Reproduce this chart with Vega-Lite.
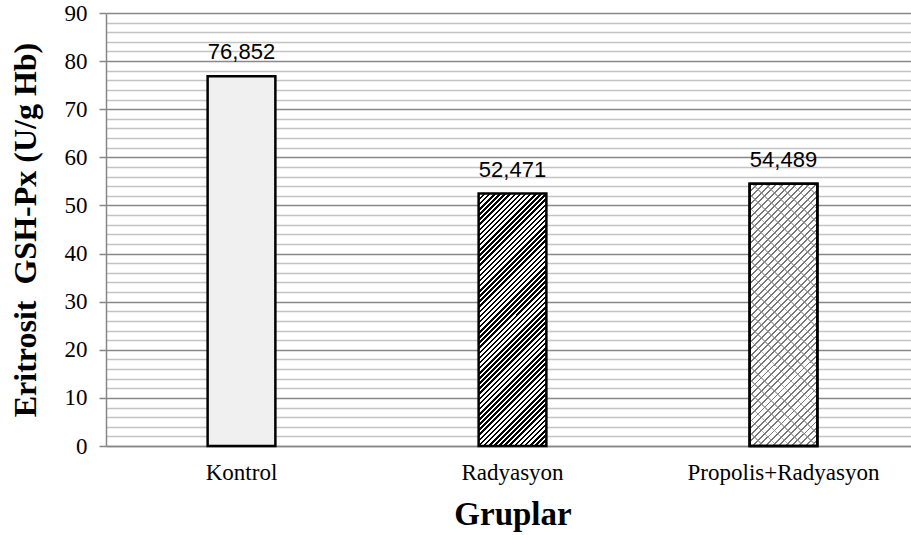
{
  "$schema": "https://vega.github.io/schema/vega-lite/v6.json",
  "width": 813,
  "height": 433,
  "autosize": "none",
  "padding": {"left": 106, "top": 13, "right": 0, "bottom": 89},
  "background": "white",
  "config": {"view": {"stroke": null}, "axis": {"labelFont": "Liberation Serif", "titleFont": "Liberation Serif", "labelColor": "#000", "titleColor": "#000"}},
  "data": {"values": [
    {"grup": "Kontrol", "deger": 76.852, "etiket": "76,852"},
    {"grup": "Radyasyon", "deger": 52.471, "etiket": "52,471"},
    {"grup": "Propolis+Radyasyon", "deger": 54.489, "etiket": "54,489"}
  ]},
  "encoding": {
    "x": {
      "field": "grup", "type": "nominal", "sort": null,
      "scale": {"paddingInner": 0.75, "paddingOuter": 0.375},
      "axis": {
        "title": "Gruplar", "titleFont": "Liberation Serif", "titleFontSize": 33, "titleFontWeight": "bold", "titleColor": "#000", "titlePadding": 14,
        "labelFont": "Liberation Serif", "labelFontSize": 23, "labelColor": "#000", "labelAngle": 0, "labelPadding": 15, "labelLimit": 0,
        "ticks": false, "domainColor": "#868686", "domainWidth": 1.5, "grid": false
      }
    },
    "y": {"field": "deger", "type": "quantitative", "scale": {"domain": [0, 90], "nice": false}}
  },
  "layer": [
    {
      "transform": [{"filter": "datum.grup === 'Kontrol'"}],
      "mark": {"type": "bar", "fill": "#f0f0f0", "stroke": "#000", "strokeWidth": 2.5},
      "encoding": {
        "y": {"field": "deger", "type": "quantitative", "axis": {
          "orient": "left", "title": null, "labels": false, "ticks": false, "domain": false,
          "grid": true, "gridColor": "#c4c4c4", "gridWidth": 1.3,
          "values": [2,4,6,8,12,14,16,18,22,24,26,28,32,34,36,38,42,44,46,48,52,54,56,58,62,64,66,68,72,74,76,78,82,84,86,88]
        }}
      }
    },
    {
      "transform": [{"filter": "datum.grup === 'Radyasyon'"}],
      "mark": {"type": "bar", "stroke": "#000", "strokeWidth": 2.5, "fill": {
        "gradient": "linear", "x1": 0, "y1": 0, "x2": 0.3176, "y2": 1.1832,
        "stops": [
{"offset":0,"color":"#000"},{"offset":0.008,"color":"#000"},{"offset":0.008,"color":"#fff"},{"offset":0.016,"color":"#fff"},
{"offset":0.016,"color":"#000"},{"offset":0.024,"color":"#000"},{"offset":0.024,"color":"#fff"},{"offset":0.032,"color":"#fff"},
{"offset":0.032,"color":"#000"},{"offset":0.04,"color":"#000"},{"offset":0.04,"color":"#fff"},{"offset":0.048,"color":"#fff"},
{"offset":0.048,"color":"#000"},{"offset":0.056,"color":"#000"},{"offset":0.056,"color":"#fff"},{"offset":0.064,"color":"#fff"},
{"offset":0.064,"color":"#000"},{"offset":0.072,"color":"#000"},{"offset":0.072,"color":"#fff"},{"offset":0.08,"color":"#fff"},
{"offset":0.08,"color":"#000"},{"offset":0.088,"color":"#000"},{"offset":0.088,"color":"#fff"},{"offset":0.096,"color":"#fff"},
{"offset":0.096,"color":"#000"},{"offset":0.104,"color":"#000"},{"offset":0.104,"color":"#fff"},{"offset":0.112,"color":"#fff"},
{"offset":0.112,"color":"#000"},{"offset":0.12,"color":"#000"},{"offset":0.12,"color":"#fff"},{"offset":0.128,"color":"#fff"},
{"offset":0.128,"color":"#000"},{"offset":0.136,"color":"#000"},{"offset":0.136,"color":"#fff"},{"offset":0.144,"color":"#fff"},
{"offset":0.144,"color":"#000"},{"offset":0.152,"color":"#000"},{"offset":0.152,"color":"#fff"},{"offset":0.16,"color":"#fff"},
{"offset":0.16,"color":"#000"},{"offset":0.168,"color":"#000"},{"offset":0.168,"color":"#fff"},{"offset":0.176,"color":"#fff"},
{"offset":0.176,"color":"#000"},{"offset":0.184,"color":"#000"},{"offset":0.184,"color":"#fff"},{"offset":0.192,"color":"#fff"},
{"offset":0.192,"color":"#000"},{"offset":0.2,"color":"#000"},{"offset":0.2,"color":"#fff"},{"offset":0.208,"color":"#fff"},
{"offset":0.208,"color":"#000"},{"offset":0.216,"color":"#000"},{"offset":0.216,"color":"#fff"},{"offset":0.224,"color":"#fff"},
{"offset":0.224,"color":"#000"},{"offset":0.232,"color":"#000"},{"offset":0.232,"color":"#fff"},{"offset":0.24,"color":"#fff"},
{"offset":0.24,"color":"#000"},{"offset":0.248,"color":"#000"},{"offset":0.248,"color":"#fff"},{"offset":0.256,"color":"#fff"},
{"offset":0.256,"color":"#000"},{"offset":0.264,"color":"#000"},{"offset":0.264,"color":"#fff"},{"offset":0.272,"color":"#fff"},
{"offset":0.272,"color":"#000"},{"offset":0.28,"color":"#000"},{"offset":0.28,"color":"#fff"},{"offset":0.288,"color":"#fff"},
{"offset":0.288,"color":"#000"},{"offset":0.296,"color":"#000"},{"offset":0.296,"color":"#fff"},{"offset":0.304,"color":"#fff"},
{"offset":0.304,"color":"#000"},{"offset":0.312,"color":"#000"},{"offset":0.312,"color":"#fff"},{"offset":0.32,"color":"#fff"},
{"offset":0.32,"color":"#000"},{"offset":0.328,"color":"#000"},{"offset":0.328,"color":"#fff"},{"offset":0.336,"color":"#fff"},
{"offset":0.336,"color":"#000"},{"offset":0.344,"color":"#000"},{"offset":0.344,"color":"#fff"},{"offset":0.352,"color":"#fff"},
{"offset":0.352,"color":"#000"},{"offset":0.36,"color":"#000"},{"offset":0.36,"color":"#fff"},{"offset":0.368,"color":"#fff"},
{"offset":0.368,"color":"#000"},{"offset":0.376,"color":"#000"},{"offset":0.376,"color":"#fff"},{"offset":0.384,"color":"#fff"},
{"offset":0.384,"color":"#000"},{"offset":0.392,"color":"#000"},{"offset":0.392,"color":"#fff"},{"offset":0.4,"color":"#fff"},
{"offset":0.4,"color":"#000"},{"offset":0.408,"color":"#000"},{"offset":0.408,"color":"#fff"},{"offset":0.416,"color":"#fff"},
{"offset":0.416,"color":"#000"},{"offset":0.424,"color":"#000"},{"offset":0.424,"color":"#fff"},{"offset":0.432,"color":"#fff"},
{"offset":0.432,"color":"#000"},{"offset":0.44,"color":"#000"},{"offset":0.44,"color":"#fff"},{"offset":0.448,"color":"#fff"},
{"offset":0.448,"color":"#000"},{"offset":0.456,"color":"#000"},{"offset":0.456,"color":"#fff"},{"offset":0.464,"color":"#fff"},
{"offset":0.464,"color":"#000"},{"offset":0.472,"color":"#000"},{"offset":0.472,"color":"#fff"},{"offset":0.48,"color":"#fff"},
{"offset":0.48,"color":"#000"},{"offset":0.488,"color":"#000"},{"offset":0.488,"color":"#fff"},{"offset":0.496,"color":"#fff"},
{"offset":0.496,"color":"#000"},{"offset":0.504,"color":"#000"},{"offset":0.504,"color":"#fff"},{"offset":0.512,"color":"#fff"},
{"offset":0.512,"color":"#000"},{"offset":0.52,"color":"#000"},{"offset":0.52,"color":"#fff"},{"offset":0.528,"color":"#fff"},
{"offset":0.528,"color":"#000"},{"offset":0.536,"color":"#000"},{"offset":0.536,"color":"#fff"},{"offset":0.544,"color":"#fff"},
{"offset":0.544,"color":"#000"},{"offset":0.552,"color":"#000"},{"offset":0.552,"color":"#fff"},{"offset":0.56,"color":"#fff"},
{"offset":0.56,"color":"#000"},{"offset":0.568,"color":"#000"},{"offset":0.568,"color":"#fff"},{"offset":0.576,"color":"#fff"},
{"offset":0.576,"color":"#000"},{"offset":0.584,"color":"#000"},{"offset":0.584,"color":"#fff"},{"offset":0.592,"color":"#fff"},
{"offset":0.592,"color":"#000"},{"offset":0.6,"color":"#000"},{"offset":0.6,"color":"#fff"},{"offset":0.608,"color":"#fff"},
{"offset":0.608,"color":"#000"},{"offset":0.616,"color":"#000"},{"offset":0.616,"color":"#fff"},{"offset":0.624,"color":"#fff"},
{"offset":0.624,"color":"#000"},{"offset":0.632,"color":"#000"},{"offset":0.632,"color":"#fff"},{"offset":0.64,"color":"#fff"},
{"offset":0.64,"color":"#000"},{"offset":0.648,"color":"#000"},{"offset":0.648,"color":"#fff"},{"offset":0.656,"color":"#fff"},
{"offset":0.656,"color":"#000"},{"offset":0.664,"color":"#000"},{"offset":0.664,"color":"#fff"},{"offset":0.672,"color":"#fff"},
{"offset":0.672,"color":"#000"},{"offset":0.68,"color":"#000"},{"offset":0.68,"color":"#fff"},{"offset":0.688,"color":"#fff"},
{"offset":0.688,"color":"#000"},{"offset":0.696,"color":"#000"},{"offset":0.696,"color":"#fff"},{"offset":0.704,"color":"#fff"},
{"offset":0.704,"color":"#000"},{"offset":0.712,"color":"#000"},{"offset":0.712,"color":"#fff"},{"offset":0.72,"color":"#fff"},
{"offset":0.72,"color":"#000"},{"offset":0.728,"color":"#000"},{"offset":0.728,"color":"#fff"},{"offset":0.736,"color":"#fff"},
{"offset":0.736,"color":"#000"},{"offset":0.744,"color":"#000"},{"offset":0.744,"color":"#fff"},{"offset":0.752,"color":"#fff"},
{"offset":0.752,"color":"#000"},{"offset":0.76,"color":"#000"},{"offset":0.76,"color":"#fff"},{"offset":0.768,"color":"#fff"},
{"offset":0.768,"color":"#000"},{"offset":0.776,"color":"#000"},{"offset":0.776,"color":"#fff"},{"offset":0.784,"color":"#fff"},
{"offset":0.784,"color":"#000"},{"offset":0.792,"color":"#000"},{"offset":0.792,"color":"#fff"},{"offset":0.8,"color":"#fff"},
{"offset":0.8,"color":"#000"},{"offset":0.808,"color":"#000"},{"offset":0.808,"color":"#fff"},{"offset":0.816,"color":"#fff"},
{"offset":0.816,"color":"#000"},{"offset":0.824,"color":"#000"},{"offset":0.824,"color":"#fff"},{"offset":0.832,"color":"#fff"},
{"offset":0.832,"color":"#000"},{"offset":0.84,"color":"#000"},{"offset":0.84,"color":"#fff"},{"offset":0.848,"color":"#fff"},
{"offset":0.848,"color":"#000"},{"offset":0.856,"color":"#000"},{"offset":0.856,"color":"#fff"},{"offset":0.864,"color":"#fff"},
{"offset":0.864,"color":"#000"},{"offset":0.872,"color":"#000"},{"offset":0.872,"color":"#fff"},{"offset":0.88,"color":"#fff"},
{"offset":0.88,"color":"#000"},{"offset":0.888,"color":"#000"},{"offset":0.888,"color":"#fff"},{"offset":0.896,"color":"#fff"},
{"offset":0.896,"color":"#000"},{"offset":0.904,"color":"#000"},{"offset":0.904,"color":"#fff"},{"offset":0.912,"color":"#fff"},
{"offset":0.912,"color":"#000"},{"offset":0.92,"color":"#000"},{"offset":0.92,"color":"#fff"},{"offset":0.928,"color":"#fff"},
{"offset":0.928,"color":"#000"},{"offset":0.936,"color":"#000"},{"offset":0.936,"color":"#fff"},{"offset":0.944,"color":"#fff"},
{"offset":0.944,"color":"#000"},{"offset":0.952,"color":"#000"},{"offset":0.952,"color":"#fff"},{"offset":0.96,"color":"#fff"},
{"offset":0.96,"color":"#000"},{"offset":0.968,"color":"#000"},{"offset":0.968,"color":"#fff"},{"offset":0.976,"color":"#fff"},
{"offset":0.976,"color":"#000"},{"offset":0.984,"color":"#000"},{"offset":0.984,"color":"#fff"},{"offset":0.992,"color":"#fff"},
{"offset":0.992,"color":"#000"},{"offset":1,"color":"#000"}
        ]
      }},
      "encoding": {
        "y": {"field": "deger", "type": "quantitative", "axis": {
          "orient": "left",
          "title": "Eritrosit\u00a0 GSH-Px (U/g Hb)", "titleFont": "Liberation Serif", "titleFontSize": 32, "titleFontWeight": "bold", "titleColor": "#000", "titlePadding": 22,
          "labelFont": "Liberation Serif", "labelFontSize": 23, "labelColor": "#000", "labelPadding": 12,
          "values": [0,10,20,30,40,50,60,70,80,90],
          "ticks": true, "tickSize": 7, "tickColor": "#868686", "tickWidth": 1.5,
          "domain": true, "domainColor": "#868686", "domainWidth": 1.5,
          "grid": true, "gridColor": "#888888", "gridWidth": 1.6
        }}
      }
    },
    {
      "transform": [{"filter": "datum.grup === 'Propolis+Radyasyon'"}],
      "mark": {"type": "bar", "stroke": "#000", "strokeWidth": 2.5, "fill": {
        "gradient": "linear", "x1": 0, "y1": 0, "x2": 0.3048, "y2": 1.1797,
        "stops": [
{"offset":0,"color":"#777"},{"offset":0.006,"color":"#777"},{"offset":0.006,"color":"#fff"},{"offset":0.02,"color":"#fff"},
{"offset":0.02,"color":"#777"},{"offset":0.026,"color":"#777"},{"offset":0.026,"color":"#fff"},{"offset":0.04,"color":"#fff"},
{"offset":0.04,"color":"#777"},{"offset":0.046,"color":"#777"},{"offset":0.046,"color":"#fff"},{"offset":0.06,"color":"#fff"},
{"offset":0.06,"color":"#777"},{"offset":0.066,"color":"#777"},{"offset":0.066,"color":"#fff"},{"offset":0.08,"color":"#fff"},
{"offset":0.08,"color":"#777"},{"offset":0.086,"color":"#777"},{"offset":0.086,"color":"#fff"},{"offset":0.1,"color":"#fff"},
{"offset":0.1,"color":"#777"},{"offset":0.106,"color":"#777"},{"offset":0.106,"color":"#fff"},{"offset":0.12,"color":"#fff"},
{"offset":0.12,"color":"#777"},{"offset":0.126,"color":"#777"},{"offset":0.126,"color":"#fff"},{"offset":0.14,"color":"#fff"},
{"offset":0.14,"color":"#777"},{"offset":0.146,"color":"#777"},{"offset":0.146,"color":"#fff"},{"offset":0.16,"color":"#fff"},
{"offset":0.16,"color":"#777"},{"offset":0.166,"color":"#777"},{"offset":0.166,"color":"#fff"},{"offset":0.18,"color":"#fff"},
{"offset":0.18,"color":"#777"},{"offset":0.186,"color":"#777"},{"offset":0.186,"color":"#fff"},{"offset":0.2,"color":"#fff"},
{"offset":0.2,"color":"#777"},{"offset":0.206,"color":"#777"},{"offset":0.206,"color":"#fff"},{"offset":0.22,"color":"#fff"},
{"offset":0.22,"color":"#777"},{"offset":0.226,"color":"#777"},{"offset":0.226,"color":"#fff"},{"offset":0.24,"color":"#fff"},
{"offset":0.24,"color":"#777"},{"offset":0.246,"color":"#777"},{"offset":0.246,"color":"#fff"},{"offset":0.26,"color":"#fff"},
{"offset":0.26,"color":"#777"},{"offset":0.266,"color":"#777"},{"offset":0.266,"color":"#fff"},{"offset":0.28,"color":"#fff"},
{"offset":0.28,"color":"#777"},{"offset":0.286,"color":"#777"},{"offset":0.286,"color":"#fff"},{"offset":0.3,"color":"#fff"},
{"offset":0.3,"color":"#777"},{"offset":0.306,"color":"#777"},{"offset":0.306,"color":"#fff"},{"offset":0.32,"color":"#fff"},
{"offset":0.32,"color":"#777"},{"offset":0.326,"color":"#777"},{"offset":0.326,"color":"#fff"},{"offset":0.34,"color":"#fff"},
{"offset":0.34,"color":"#777"},{"offset":0.346,"color":"#777"},{"offset":0.346,"color":"#fff"},{"offset":0.36,"color":"#fff"},
{"offset":0.36,"color":"#777"},{"offset":0.366,"color":"#777"},{"offset":0.366,"color":"#fff"},{"offset":0.38,"color":"#fff"},
{"offset":0.38,"color":"#777"},{"offset":0.386,"color":"#777"},{"offset":0.386,"color":"#fff"},{"offset":0.4,"color":"#fff"},
{"offset":0.4,"color":"#777"},{"offset":0.406,"color":"#777"},{"offset":0.406,"color":"#fff"},{"offset":0.42,"color":"#fff"},
{"offset":0.42,"color":"#777"},{"offset":0.426,"color":"#777"},{"offset":0.426,"color":"#fff"},{"offset":0.44,"color":"#fff"},
{"offset":0.44,"color":"#777"},{"offset":0.446,"color":"#777"},{"offset":0.446,"color":"#fff"},{"offset":0.46,"color":"#fff"},
{"offset":0.46,"color":"#777"},{"offset":0.466,"color":"#777"},{"offset":0.466,"color":"#fff"},{"offset":0.48,"color":"#fff"},
{"offset":0.48,"color":"#777"},{"offset":0.486,"color":"#777"},{"offset":0.486,"color":"#fff"},{"offset":0.5,"color":"#fff"},
{"offset":0.5,"color":"#777"},{"offset":0.506,"color":"#777"},{"offset":0.506,"color":"#fff"},{"offset":0.52,"color":"#fff"},
{"offset":0.52,"color":"#777"},{"offset":0.526,"color":"#777"},{"offset":0.526,"color":"#fff"},{"offset":0.54,"color":"#fff"},
{"offset":0.54,"color":"#777"},{"offset":0.546,"color":"#777"},{"offset":0.546,"color":"#fff"},{"offset":0.56,"color":"#fff"},
{"offset":0.56,"color":"#777"},{"offset":0.566,"color":"#777"},{"offset":0.566,"color":"#fff"},{"offset":0.58,"color":"#fff"},
{"offset":0.58,"color":"#777"},{"offset":0.586,"color":"#777"},{"offset":0.586,"color":"#fff"},{"offset":0.6,"color":"#fff"},
{"offset":0.6,"color":"#777"},{"offset":0.606,"color":"#777"},{"offset":0.606,"color":"#fff"},{"offset":0.62,"color":"#fff"},
{"offset":0.62,"color":"#777"},{"offset":0.626,"color":"#777"},{"offset":0.626,"color":"#fff"},{"offset":0.64,"color":"#fff"},
{"offset":0.64,"color":"#777"},{"offset":0.646,"color":"#777"},{"offset":0.646,"color":"#fff"},{"offset":0.66,"color":"#fff"},
{"offset":0.66,"color":"#777"},{"offset":0.666,"color":"#777"},{"offset":0.666,"color":"#fff"},{"offset":0.68,"color":"#fff"},
{"offset":0.68,"color":"#777"},{"offset":0.686,"color":"#777"},{"offset":0.686,"color":"#fff"},{"offset":0.7,"color":"#fff"},
{"offset":0.7,"color":"#777"},{"offset":0.706,"color":"#777"},{"offset":0.706,"color":"#fff"},{"offset":0.72,"color":"#fff"},
{"offset":0.72,"color":"#777"},{"offset":0.726,"color":"#777"},{"offset":0.726,"color":"#fff"},{"offset":0.74,"color":"#fff"},
{"offset":0.74,"color":"#777"},{"offset":0.746,"color":"#777"},{"offset":0.746,"color":"#fff"},{"offset":0.76,"color":"#fff"},
{"offset":0.76,"color":"#777"},{"offset":0.766,"color":"#777"},{"offset":0.766,"color":"#fff"},{"offset":0.78,"color":"#fff"},
{"offset":0.78,"color":"#777"},{"offset":0.786,"color":"#777"},{"offset":0.786,"color":"#fff"},{"offset":0.8,"color":"#fff"},
{"offset":0.8,"color":"#777"},{"offset":0.806,"color":"#777"},{"offset":0.806,"color":"#fff"},{"offset":0.82,"color":"#fff"},
{"offset":0.82,"color":"#777"},{"offset":0.826,"color":"#777"},{"offset":0.826,"color":"#fff"},{"offset":0.84,"color":"#fff"},
{"offset":0.84,"color":"#777"},{"offset":0.846,"color":"#777"},{"offset":0.846,"color":"#fff"},{"offset":0.86,"color":"#fff"},
{"offset":0.86,"color":"#777"},{"offset":0.866,"color":"#777"},{"offset":0.866,"color":"#fff"},{"offset":0.88,"color":"#fff"},
{"offset":0.88,"color":"#777"},{"offset":0.886,"color":"#777"},{"offset":0.886,"color":"#fff"},{"offset":0.9,"color":"#fff"},
{"offset":0.9,"color":"#777"},{"offset":0.906,"color":"#777"},{"offset":0.906,"color":"#fff"},{"offset":0.92,"color":"#fff"},
{"offset":0.92,"color":"#777"},{"offset":0.926,"color":"#777"},{"offset":0.926,"color":"#fff"},{"offset":0.94,"color":"#fff"},
{"offset":0.94,"color":"#777"},{"offset":0.946,"color":"#777"},{"offset":0.946,"color":"#fff"},{"offset":0.96,"color":"#fff"},
{"offset":0.96,"color":"#777"},{"offset":0.966,"color":"#777"},{"offset":0.966,"color":"#fff"},{"offset":0.98,"color":"#fff"},
{"offset":0.98,"color":"#777"},{"offset":0.986,"color":"#777"},{"offset":0.986,"color":"#fff"},{"offset":1,"color":"#fff"}
        ]
      }},
      "encoding": {"y": {"field": "deger", "type": "quantitative", "axis": null}}
    },
    {
      "transform": [{"filter": "datum.grup === 'Propolis+Radyasyon'"}],
      "mark": {"type": "bar", "stroke": "#000", "strokeWidth": 2.5, "fill": {
        "gradient": "linear", "x1": 0, "y1": 1, "x2": 0.3048, "y2": -0.1797,
        "stops": [
{"offset":0,"color":"rgba(140,140,140,0.7)"},{"offset":0.005,"color":"rgba(140,140,140,0.7)"},{"offset":0.005,"color":"rgba(255,255,255,0)"},{"offset":0.04,"color":"rgba(255,255,255,0)"},
{"offset":0.04,"color":"rgba(140,140,140,0.7)"},{"offset":0.045,"color":"rgba(140,140,140,0.7)"},{"offset":0.045,"color":"rgba(255,255,255,0)"},{"offset":0.08,"color":"rgba(255,255,255,0)"},
{"offset":0.08,"color":"rgba(140,140,140,0.7)"},{"offset":0.085,"color":"rgba(140,140,140,0.7)"},{"offset":0.085,"color":"rgba(255,255,255,0)"},{"offset":0.12,"color":"rgba(255,255,255,0)"},
{"offset":0.12,"color":"rgba(140,140,140,0.7)"},{"offset":0.125,"color":"rgba(140,140,140,0.7)"},{"offset":0.125,"color":"rgba(255,255,255,0)"},{"offset":0.16,"color":"rgba(255,255,255,0)"},
{"offset":0.16,"color":"rgba(140,140,140,0.7)"},{"offset":0.165,"color":"rgba(140,140,140,0.7)"},{"offset":0.165,"color":"rgba(255,255,255,0)"},{"offset":0.2,"color":"rgba(255,255,255,0)"},
{"offset":0.2,"color":"rgba(140,140,140,0.7)"},{"offset":0.205,"color":"rgba(140,140,140,0.7)"},{"offset":0.205,"color":"rgba(255,255,255,0)"},{"offset":0.24,"color":"rgba(255,255,255,0)"},
{"offset":0.24,"color":"rgba(140,140,140,0.7)"},{"offset":0.245,"color":"rgba(140,140,140,0.7)"},{"offset":0.245,"color":"rgba(255,255,255,0)"},{"offset":0.28,"color":"rgba(255,255,255,0)"},
{"offset":0.28,"color":"rgba(140,140,140,0.7)"},{"offset":0.285,"color":"rgba(140,140,140,0.7)"},{"offset":0.285,"color":"rgba(255,255,255,0)"},{"offset":0.32,"color":"rgba(255,255,255,0)"},
{"offset":0.32,"color":"rgba(140,140,140,0.7)"},{"offset":0.325,"color":"rgba(140,140,140,0.7)"},{"offset":0.325,"color":"rgba(255,255,255,0)"},{"offset":0.36,"color":"rgba(255,255,255,0)"},
{"offset":0.36,"color":"rgba(140,140,140,0.7)"},{"offset":0.365,"color":"rgba(140,140,140,0.7)"},{"offset":0.365,"color":"rgba(255,255,255,0)"},{"offset":0.4,"color":"rgba(255,255,255,0)"},
{"offset":0.4,"color":"rgba(140,140,140,0.7)"},{"offset":0.405,"color":"rgba(140,140,140,0.7)"},{"offset":0.405,"color":"rgba(255,255,255,0)"},{"offset":0.44,"color":"rgba(255,255,255,0)"},
{"offset":0.44,"color":"rgba(140,140,140,0.7)"},{"offset":0.445,"color":"rgba(140,140,140,0.7)"},{"offset":0.445,"color":"rgba(255,255,255,0)"},{"offset":0.48,"color":"rgba(255,255,255,0)"},
{"offset":0.48,"color":"rgba(140,140,140,0.7)"},{"offset":0.485,"color":"rgba(140,140,140,0.7)"},{"offset":0.485,"color":"rgba(255,255,255,0)"},{"offset":0.52,"color":"rgba(255,255,255,0)"},
{"offset":0.52,"color":"rgba(140,140,140,0.7)"},{"offset":0.525,"color":"rgba(140,140,140,0.7)"},{"offset":0.525,"color":"rgba(255,255,255,0)"},{"offset":0.56,"color":"rgba(255,255,255,0)"},
{"offset":0.56,"color":"rgba(140,140,140,0.7)"},{"offset":0.565,"color":"rgba(140,140,140,0.7)"},{"offset":0.565,"color":"rgba(255,255,255,0)"},{"offset":0.6,"color":"rgba(255,255,255,0)"},
{"offset":0.6,"color":"rgba(140,140,140,0.7)"},{"offset":0.605,"color":"rgba(140,140,140,0.7)"},{"offset":0.605,"color":"rgba(255,255,255,0)"},{"offset":0.64,"color":"rgba(255,255,255,0)"},
{"offset":0.64,"color":"rgba(140,140,140,0.7)"},{"offset":0.645,"color":"rgba(140,140,140,0.7)"},{"offset":0.645,"color":"rgba(255,255,255,0)"},{"offset":0.68,"color":"rgba(255,255,255,0)"},
{"offset":0.68,"color":"rgba(140,140,140,0.7)"},{"offset":0.685,"color":"rgba(140,140,140,0.7)"},{"offset":0.685,"color":"rgba(255,255,255,0)"},{"offset":0.72,"color":"rgba(255,255,255,0)"},
{"offset":0.72,"color":"rgba(140,140,140,0.7)"},{"offset":0.725,"color":"rgba(140,140,140,0.7)"},{"offset":0.725,"color":"rgba(255,255,255,0)"},{"offset":0.76,"color":"rgba(255,255,255,0)"},
{"offset":0.76,"color":"rgba(140,140,140,0.7)"},{"offset":0.765,"color":"rgba(140,140,140,0.7)"},{"offset":0.765,"color":"rgba(255,255,255,0)"},{"offset":0.8,"color":"rgba(255,255,255,0)"},
{"offset":0.8,"color":"rgba(140,140,140,0.7)"},{"offset":0.805,"color":"rgba(140,140,140,0.7)"},{"offset":0.805,"color":"rgba(255,255,255,0)"},{"offset":0.84,"color":"rgba(255,255,255,0)"},
{"offset":0.84,"color":"rgba(140,140,140,0.7)"},{"offset":0.845,"color":"rgba(140,140,140,0.7)"},{"offset":0.845,"color":"rgba(255,255,255,0)"},{"offset":0.88,"color":"rgba(255,255,255,0)"},
{"offset":0.88,"color":"rgba(140,140,140,0.7)"},{"offset":0.885,"color":"rgba(140,140,140,0.7)"},{"offset":0.885,"color":"rgba(255,255,255,0)"},{"offset":0.92,"color":"rgba(255,255,255,0)"},
{"offset":0.92,"color":"rgba(140,140,140,0.7)"},{"offset":0.925,"color":"rgba(140,140,140,0.7)"},{"offset":0.925,"color":"rgba(255,255,255,0)"},{"offset":0.96,"color":"rgba(255,255,255,0)"},
{"offset":0.96,"color":"rgba(140,140,140,0.7)"},{"offset":0.965,"color":"rgba(140,140,140,0.7)"},{"offset":0.965,"color":"rgba(255,255,255,0)"},{"offset":1,"color":"rgba(255,255,255,0)"}
        ]
      }},
      "encoding": {"y": {"field": "deger", "type": "quantitative", "axis": null}}
    },
    {
      "mark": {"type": "text", "font": "Liberation Sans", "fontSize": 22, "color": "#000", "baseline": "alphabetic", "dy": -17},
      "encoding": {
        "y": {"field": "deger", "type": "quantitative", "axis": null},
        "text": {"field": "etiket", "type": "nominal"}
      }
    }
  ],
  "resolve": {"axis": {"y": "independent"}}
}
